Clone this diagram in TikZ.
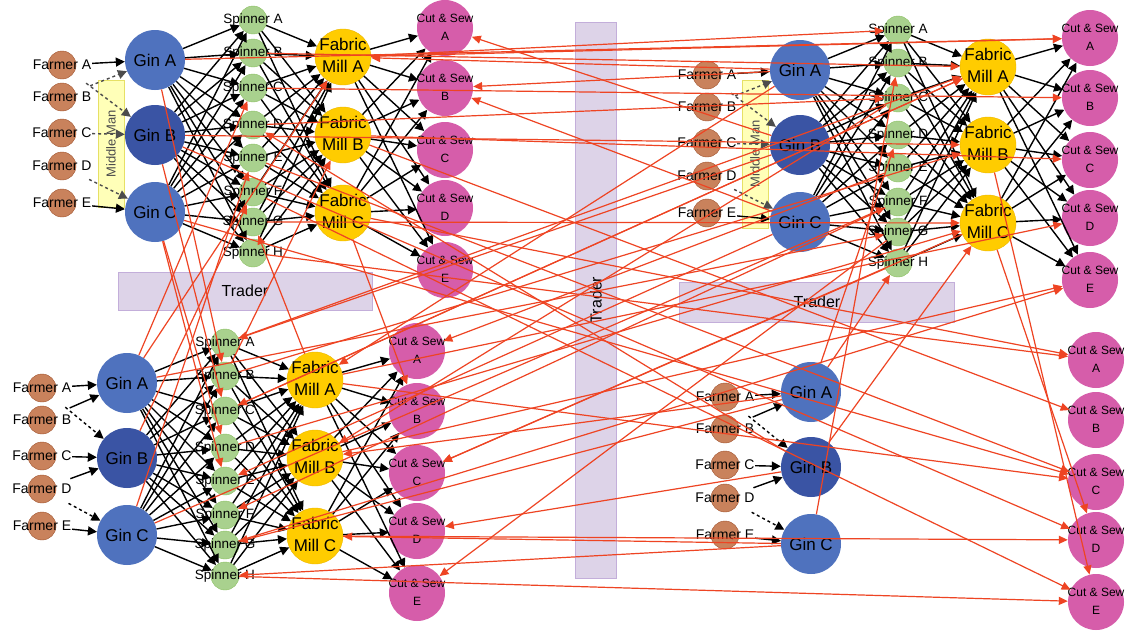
\documentclass[tikz,border=0pt]{standalone}
\usepackage{fontspec}
\setmainfont{Liberation Sans}
\usetikzlibrary{arrows.meta}
\definecolor{farmerfill}{HTML}{C9825C}
\definecolor{farmerline}{HTML}{A0522D}
\definecolor{ginblue}{HTML}{4F72BE}
\definecolor{gindark}{HTML}{3A54A4}
\definecolor{spgreen}{HTML}{A9D18E}
\definecolor{spline}{HTML}{8CC063}
\definecolor{millyellow}{HTML}{FFCC00}
\definecolor{millline}{HTML}{EDB800}
\definecolor{cspink}{HTML}{D65DAA}
\definecolor{mmfill}{HTML}{FFFFB8}
\definecolor{mmline}{HTML}{E6E065}
\definecolor{tradefill}{HTML}{DDD3E8}
\definecolor{tradeline}{HTML}{C3AEDA}
\definecolor{tradered}{HTML}{EE4423}
\tikzstyle{farmer} = [circle, fill=farmerfill, draw=farmerline, minimum size=28pt, inner sep=0pt, font=\fontsize{14}{14}\selectfont]
\tikzstyle{gin} = [circle, minimum size=60pt, inner sep=0pt, font=\fontsize{17}{17}\selectfont]
\tikzstyle{spinner} = [circle, fill=spgreen, draw=spline, minimum size=28pt, inner sep=0pt, font=\fontsize{13.5}{13.5}\selectfont]
\tikzstyle{mill} = [circle, fill=millyellow, draw=millline, minimum size=56pt, inner sep=0pt, font=\fontsize{17}{22}\selectfont]
\tikzstyle{cutsew} = [circle, fill=cspink, minimum size=56pt, inner sep=0pt, font=\fontsize{12}{18}\selectfont]
\tikzstyle{middleman} = [rectangle, fill=mmfill, draw=mmline, inner sep=0pt, text=black!70, font=\fontsize{13}{13}\selectfont]
\tikzstyle{trader} = [rectangle, fill=tradefill, draw=tradeline, inner sep=0pt, font=\fontsize{16}{16}\selectfont]
\tikzstyle{flow} = [-{Triangle[length=9pt,width=9pt]}, line width=1.4pt, black]
\tikzstyle{farm} = [flow, shorten <=16pt]
\tikzstyle{trade} = [-{Triangle[length=9pt,width=8pt]}, line width=1.2pt, tradered]

\newcommand{\farmerrow}[1]{%
  \foreach \n/\y in {A/65,B/97,C/133,D/166,E/203}
    \node[farmer] (F_\n) at (#1,\y) {\makebox[0pt]{Farmer \n}};}
\newcommand{\ginrow}{%
  \foreach \n/\y/\c in {A/60/ginblue,B/135/gindark,C/212/ginblue}
    \node[gin, fill=\c] (GIN_\n) at (155,\y) {Gin \n};}
\newcommand{\spinnerrow}{%
  \foreach \n/\y in {A/20,B/53,C/88,D/125,E/158,F/192,G/222,H/253}
    \node[spinner] (SP_\n) at (253,\y) {\makebox[0pt]{Spinner \n}};}
\newcommand{\millrow}{%
  \foreach \n/\y in {A/57,B/135,C/213}
    \node[mill] (MILL_\n) at (343,\y) {\makebox[0pt]{\begin{tabular}{@{}c@{}}Fabric\\Mill \n\end{tabular}}};}
\newcommand{\cutsewrow}[1]{%
  \foreach \n/\y in {A/28,B/88,C/150,D/208,E/270}
    \node[cutsew] (CS_\n) at (#1,\y) {\makebox[0pt]{\begin{tabular}{@{}c@{}}Cut \& Sew\\\n\end{tabular}}};}
\newcommand{\blackflows}{%
  \foreach \g in {A,B,C} \foreach \s in {A,...,H} \draw[flow] (GIN_\g) -- (SP_\s);
  \foreach \s in {A,...,H} \foreach \m in {A,B,C} \draw[flow] (SP_\s) -- (MILL_\m);
  \foreach \m in {A,B,C} \foreach \c in {A,...,E} \draw[flow] (MILL_\m) -- (CS_\c);}
\newcommand{\middlemanflows}[2]{%
  \node[middleman, rotate=90, minimum width=#2pt, minimum height=26pt] (MM) at (#1,144) {Middle Man};
  \draw[farm] (F_A) -- (GIN_A);
  \draw[farm] (F_E) -- (GIN_C);
  \foreach \f/\g in {A/B,B/A,C/B,D/C}
    \draw[farm, dashed, black!70] (F_\f) -- (GIN_\g);}
\newcommand{\directflows}{%
  \foreach \f/\g in {A/A,B/A,C/B,D/B,E/C}
    \draw[farm] (F_\f) -- (GIN_\g);
  \foreach \f/\g in {A/B,D/C}
    \draw[farm, dashed] (F_\f) -- (GIN_\g);}

\begin{document}
\begin{tikzpicture}[x=1pt, y=-1pt]
\fill[white] (0,0) rectangle (1127,632);
\useasboundingbox (0,0) rectangle (1127,632);

\node[trader, minimum width=254pt, minimum height=38pt] (TRADER_L) at (245,291) {Trader};
\node[trader, minimum width=275pt, minimum height=40pt] (TRADER_R) at (817,302) {Trader};
\node[trader, rotate=90, minimum width=556pt, minimum height=41pt] (TRADER_M) at (596,300) {Trader};

\begin{scope}[name prefix=TL_]
  \farmerrow{62} \ginrow \spinnerrow \millrow \cutsewrow{445}
  \middlemanflows{111}{127}
  \blackflows
\end{scope}

\begin{scope}[shift={(645,10)}, name prefix=TR_]
  \farmerrow{62} \ginrow \spinnerrow \millrow \cutsewrow{445}
  \middlemanflows{110}{148}
  \blackflows
\end{scope}

\begin{scope}[shift={(-28,323)}, name prefix=BL_]
  \farmerrow{70} \ginrow \spinnerrow \millrow \cutsewrow{445}
  \directflows
  \blackflows
\end{scope}

\begin{scope}[shift={(656,332)}, name prefix=BR_]
  \farmerrow{69} \ginrow \cutsewrow{440}
  \directflows
\end{scope}

\foreach \a/\b in {TL_GIN_A/TR_CS_A, TL_MILL_A/TR_SP_A, TL_SP_B/TR_MILL_A, TL_SP_C/TR_CS_B,
    TL_SP_D/TR_SP_C, TL_GIN_B/TR_MILL_B, TL_MILL_B/TR_CS_C, BL_MILL_A/TR_CS_D,
    BL_MILL_B/TR_CS_E, BL_SP_A/TR_MILL_A, BL_SP_B/TR_MILL_B, BL_SP_D/TR_MILL_C,
    BR_GIN_A/TR_SP_H, BL_GIN_A/TR_SP_G, BR_GIN_A/TR_SP_D, BR_GIN_C/TR_SP_B,
    BR_GIN_B/TR_MILL_C, TR_GIN_B/TL_CS_A, TR_GIN_C/TL_CS_B, TR_GIN_A/TL_MILL_A,
    BL_GIN_A/TL_MILL_A, BL_GIN_A/TL_SP_C, BL_GIN_C/TL_SP_E, BL_GIN_B/TL_SP_F,
    BL_MILL_A/TL_SP_G, BL_SP_B/TL_MILL_B, TL_GIN_B/BL_SP_C, TL_GIN_C/BL_SP_E,
    TL_GIN_A/BL_SP_B, TL_GIN_C/BL_SP_D, TL_MILL_C/BL_CS_B, TR_SP_E/BL_CS_A,
    TR_MILL_C/BL_CS_C, TR_SP_G/BL_CS_E, TR_MILL_A/BL_SP_C, TR_GIN_C/BL_SP_E,
    TR_SP_F/BL_SP_F, BR_GIN_A/BL_SP_G, BR_GIN_C/BL_SP_H, BR_GIN_C/BL_MILL_C,
    BR_GIN_B/BL_CS_D, BR_GIN_A/BL_MILL_B, TR_GIN_A/BL_MILL_A, TR_SP_C/BL_MILL_B,
    TL_MILL_C/BR_CS_A, TL_SP_H/BR_CS_A, TL_MILL_B/BR_CS_B, BL_MILL_A/BR_CS_C,
    TL_GIN_C/BR_CS_C, BL_MILL_C/BR_CS_D, TR_MILL_C/BR_CS_D, BL_SP_H/BR_CS_E,
    TR_MILL_B/BR_CS_E, TL_SP_F/BR_CS_E, TL_SP_E/BR_CS_C, TL_MILL_A/TR_CS_A,
    TL_SP_G/TR_MILL_C, BL_SP_C/TR_MILL_A, BL_GIN_C/TR_SP_F, TR_SP_H/BL_CS_C,
    TR_GIN_B/BL_SP_A, BR_GIN_B/TL_SP_D, TL_GIN_B/BR_CS_D, BL_SP_G/TR_CS_E,
    TR_GIN_A/TL_CS_B}
  \draw[trade] (\a) -- (\b);
\end{tikzpicture}
\end{document}
